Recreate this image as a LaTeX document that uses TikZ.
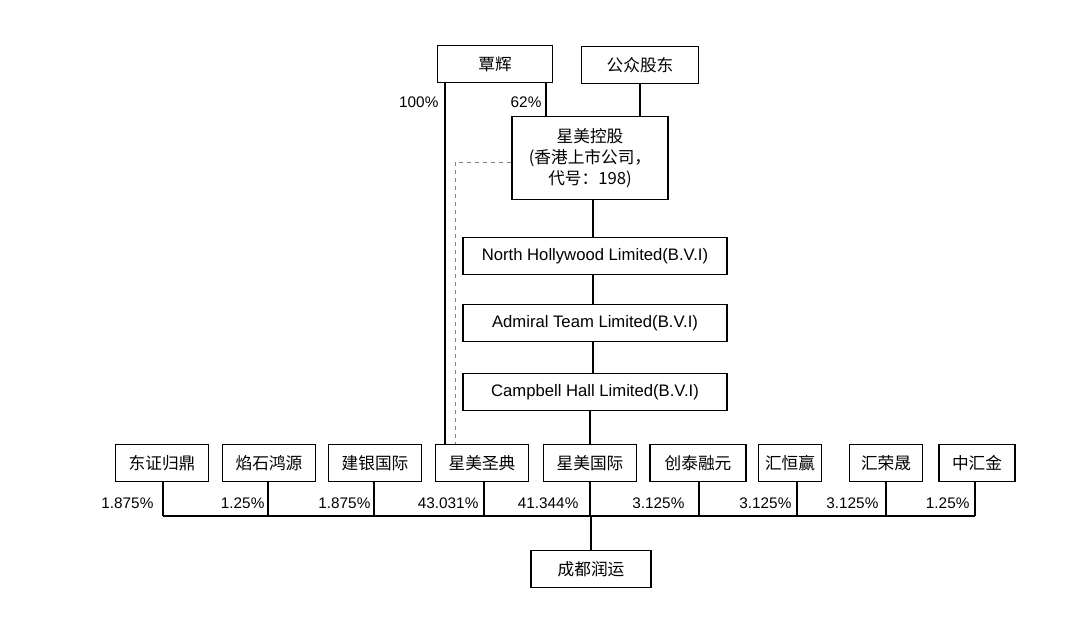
\documentclass[tikz,border=0pt]{standalone}
\usepackage{fontspec}
\setmainfont{Liberation Sans}
\newfontfamily\cjk{Noto Sans CJK SC}
\usetikzlibrary{positioning}

\begin{document}
\begin{tikzpicture}[
  x=0.75pt, y=-0.75pt,
  every node/.style={font=\cjk\fontsize{12.5}{14}\selectfont},
  box/.style={rectangle, draw, thick, minimum height=28pt, inner sep=2pt, align=center},
  pct/.style={font=\fontsize{11.5}{13}\selectfont, anchor=east, inner sep=1pt},
  link/.style={thick},
]
\useasboundingbox (0,0) rectangle (1080,617);

% top owners
\node[box, minimum width=86pt] (qin) at (495,64) {覃辉};
\node[box, minimum width=88pt] (public) at (640,65) {公众股东};
\node[box, minimum width=117pt, minimum height=62pt, inner sep=0pt, font=\cjk\fontsize{12.5}{15.5}\selectfont] (hold) at (590,158) {星美控股\\(香港上市公司，\\代号：198)};

% BVI chain
\node[box, minimum width=198pt, font=\fontsize{12.5}{14}\selectfont] (north) at (595,256) {North Hollywood Limited(B.V.I)};
\node[box, minimum width=198pt, font=\fontsize{12.5}{14}\selectfont] (admiral) at (595,323) {Admiral Team Limited(B.V.I)};
\node[box, minimum width=198pt, font=\fontsize{12.5}{14}\selectfont] (campbell) at (595,392) {Campbell Hall Limited(B.V.I)};

% shareholders row
\node[box, minimum width=70pt] (dz) at (162,463) {东证归鼎};
\node[box, minimum width=70pt] (ys) at (269,463) {焰石鸿源};
\node[box, minimum width=70pt] (jy) at (375,463) {建银国际};
\node[box, minimum width=70pt] (sd) at (482,463) {星美圣典};
\node[box, minimum width=70pt] (gj) at (590,463) {星美国际};
\node[box, minimum width=72pt] (ct) at (698,463) {创泰融元};
\node[box, minimum width=47pt] (hh) at (790,463) {汇恒赢};
\node[box, minimum width=55pt] (hr) at (886,463) {汇荣晟};
\node[box, minimum width=57pt] (zh) at (977,463) {中汇金};

\node[box, minimum width=90pt] (cd) at (591,569) {成都润运};

% ownership lines above
\draw[link] (qin.south -| 445,0) -- (sd.north -| 445,0);
\draw[link] (qin.south -| 546,0) -- (hold.north -| 546,0);
\draw[link] (public) -- (hold.north -| public);
\draw[link, dashed, gray, thin] (hold.west |- 0,162) -| (sd.north -| 455,0);
\draw[link] (hold.south -| 593,0) -- (north.north -| 593,0);
\draw[link] (north.south -| 593,0) -- (admiral.north -| 593,0);
\draw[link] (admiral.south -| 593,0) -- (campbell.north -| 593,0);
\draw[link] (campbell.south -| 590,0) -- (gj.north -| 590,0);
\node[pct] at (440,102) {100\%};
\node[pct] at (543,102) {62\%};

% bus to 成都润运
\coordinate (busL) at (163,516);
\coordinate (busR) at (975,516);
\draw[link] (busL) -- (busR);
\draw[link] (cd.north) -- (cd.north |- busL);
\foreach \n/\x in {dz/163, ys/268, jy/374, sd/484, gj/590, ct/699, hh/797, hr/886, zh/975}
  \draw[link] (\n.south -| \x,0) -- (\x,516);
\foreach \x/\p in {155/1.875, 266/1.25, 372/1.875, 480/43.031, 580/41.344, 686/3.125, 793/3.125, 880/3.125, 971/1.25}
  \node[pct] at (\x,503) {\p\%};
\end{tikzpicture}
\end{document}
